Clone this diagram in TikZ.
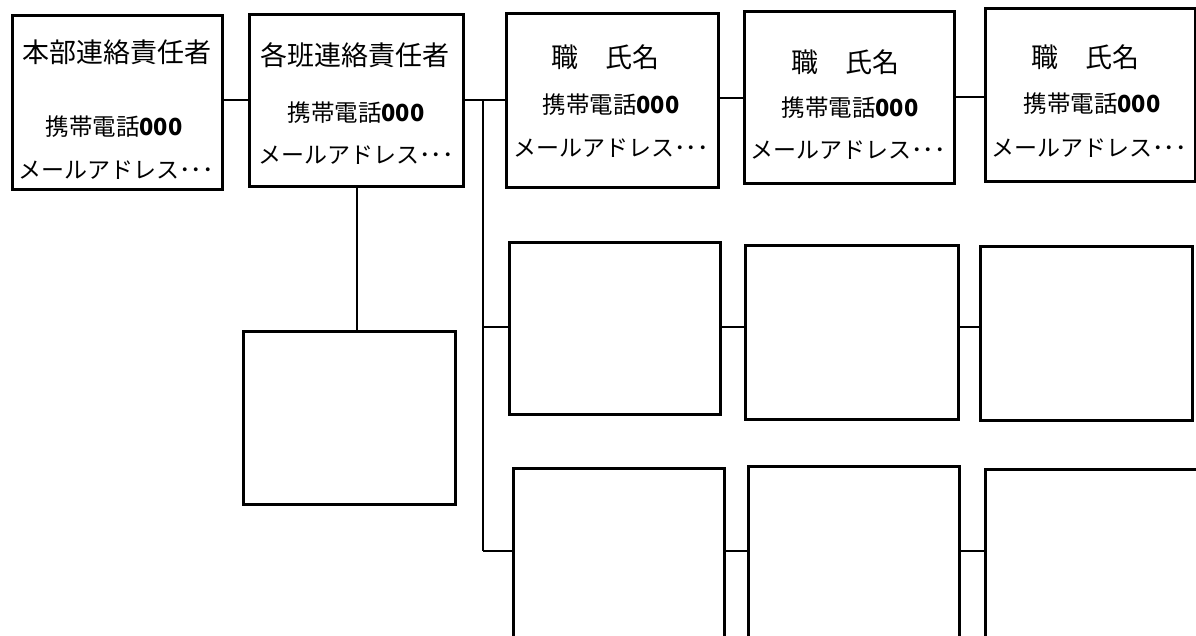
\documentclass[tikz,border=0pt]{standalone}
\usepackage{fontspec}
\setmainfont{Noto Sans CJK JP}
\begin{document}
\begin{tikzpicture}[x=1pt,y=1pt,
  box/.style={draw=black, line width=2.8pt, rectangle, inner sep=0pt, anchor=north west, fill=white},
  conn/.style={draw=black, line width=2.8pt},
  ttl/.style={inner sep=0pt, font=\fontsize{27pt}{30pt}\selectfont},
  tel/.style={inner sep=0pt, font=\fontsize{23.5pt}{27pt}\selectfont},
  mail/.style={inner sep=0pt, font=\fontsize{23pt}{27pt}\selectfont}]
\useasboundingbox (0,0) rectangle (1196,-636);
\clip (0,0) rectangle (1196,-636);
\fill[white] (0,0) rectangle (1196,-636);
% boxes (x, top y, width, height)
\node[box, minimum width=210, minimum height=174] (b1) at (11,-14) {};
\node[box, minimum width=214, minimum height=172] (b2) at (248,-13) {};
\node[box, minimum width=212, minimum height=174] (b3) at (505,-12) {};
\node[box, minimum width=210, minimum height=172] (b4) at (743,-10) {};
\node[box, minimum width=210, minimum height=173] (b5) at (984,-7) {};
\node[box, minimum width=212, minimum height=173] (sb) at (242,-330) {};
\node[box, minimum width=211, minimum height=172] (r2a) at (508,-241) {};
\node[box, minimum width=213, minimum height=174] (r2b) at (744,-244) {};
\node[box, minimum width=212, minimum height=174] (r2c) at (979,-245) {};
\node[box, minimum width=211, minimum height=200] (r3a) at (512,-467) {};
\node[box, minimum width=211, minimum height=200] (r3b) at (747,-465) {};
\node[box, minimum width=220, minimum height=200] (r3c) at (984,-468) {};
% texts
\node[ttl] (b1a) at (117,-52) {本部連絡責任者};
\node[tel] (b1b) at (114,-127) {携帯電話\textbf{000}};
\node[mail] (b1c) at (116,-170) {メールアドレス･･･};
\node[ttl] (b2a) at (355,-55) {各班連絡責任者};
\node[tel] (b2b) at (356,-113) {携帯電話\textbf{000}};
\node[mail] (b2c) at (356,-155) {メールアドレス･･･};
\node[ttl] (b3a) at (605,-57) {職　氏名};
\node[tel] (b3b) at (611,-105) {携帯電話\textbf{000}};
\node[mail] (b3c) at (611,-148) {メールアドレス･･･};
\node[ttl] (b4a) at (845,-62) {職　氏名};
\node[tel] (b4b) at (850,-108) {携帯電話\textbf{000}};
\node[mail] (b4c) at (848,-150) {メールアドレス･･･};
\node[ttl] (b5a) at (1085,-57) {職　氏名};
\node[tel] (b5b) at (1092,-104) {携帯電話\textbf{000}};
\node[mail] (b5c) at (1089,-148) {メールアドレス･･･};
% connector coordinates
\coordinate (ta) at (483,-100);
\coordinate (tb) at (483,-551);
\draw[conn] (b1.east |- 0,-100) -- (b2.west |- 0,-100);
\draw[conn] (b2.east |- 0,-100) -- (b3.west |- 0,-100);
\draw[conn] (ta) -- (tb);
\draw[conn] (b3.east |- 0,-98) -- (b4.west |- 0,-98);
\draw[conn] (b4.east |- 0,-97) -- (b5.west |- 0,-97);
\draw[conn] (b2.south -| 357,0) -- (sb.north -| 357,0);
\draw[conn] (ta |- 0,-327) -- (r2a.west |- 0,-327);
\draw[conn] (r2a.east |- 0,-327) -- (r2b.west |- 0,-327);
\draw[conn] (r2b.east |- 0,-327) -- (r2c.west |- 0,-327);
\draw[conn] (tb) -- (r3a.west |- tb);
\draw[conn] (r3a.east |- tb) -- (r3b.west |- tb);
\draw[conn] (r3b.east |- tb) -- (r3c.west |- tb);
\end{tikzpicture}
\end{document}
